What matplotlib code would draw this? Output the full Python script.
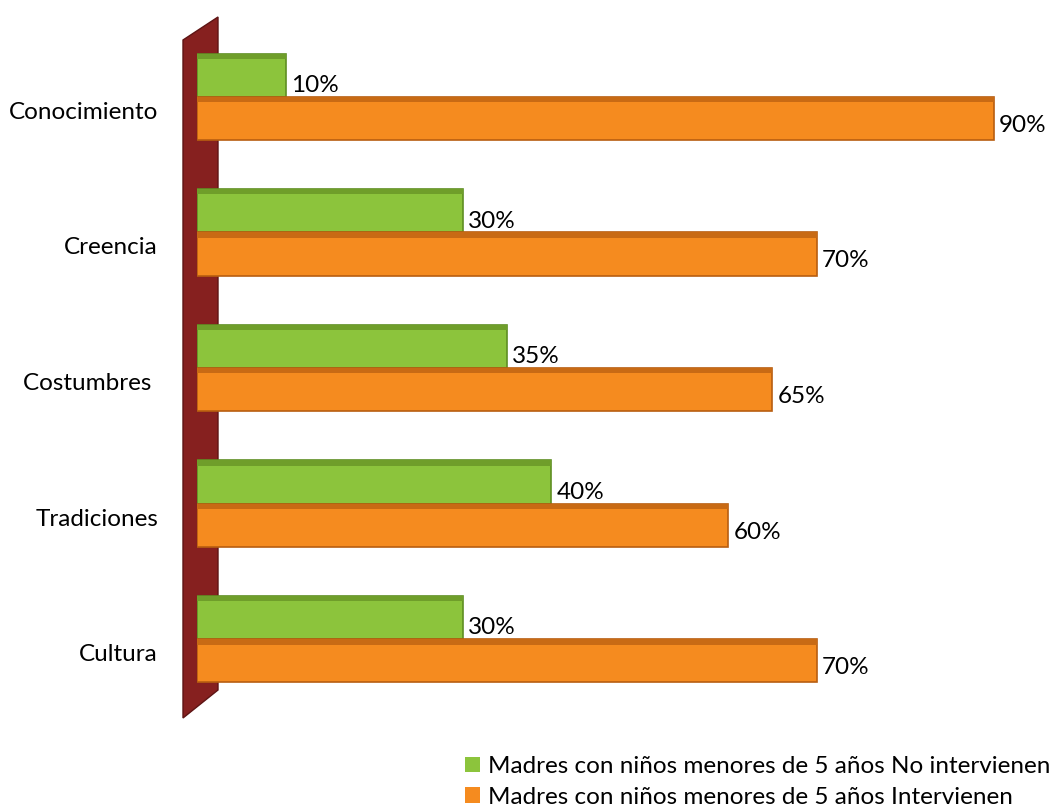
import matplotlib.pyplot as plt
from matplotlib.patches import Polygon, Patch

# ==============================
# DATA
# ==============================
categories = ["Conocimiento", "Creencia", "Costumbres ", "Tradiciones", "Cultura"]
no_intervienen = [0.10, 0.30, 0.35, 0.40, 0.30]
intervienen = [0.90, 0.70, 0.65, 0.60, 0.70]
label_no = "Madres con niños menores de 5 años No intervienen"
label_si = "Madres con niños menores de 5 años Intervienen"

plt.rcParams['font.family'] = ['Lato', 'DejaVu Sans']

W, H = 1059, 809
fig = plt.figure(figsize=(W / 100, H / 100), dpi=100)
ax = fig.add_axes([197 / W, 1 - 734 / H, (1045 - 197) / W, 732 / H])
ax.set_zorder(1)
ax.patch.set_visible(False)

# dark red side wall (3D look)
wall = Polygon([(183 / W, 1 - 40 / H), (218 / W, 1 - 17 / H),
                (218 / W, 1 - 690 / H), (183 / W, 1 - 718 / H)],
               closed=True, transform=fig.transFigure,
               facecolor="#86201f", edgecolor="#5e1414", zorder=0)
fig.patches.append(wall)

n = len(categories)
pos = [n - 1 - i for i in range(n)]
h = 0.32
green_y = [p + 0.16 for p in pos]
orange_y = [p - 0.16 for p in pos]

ax.barh(green_y, no_intervienen, height=h, color="#8cc43c", edgecolor="#5f8f22",
        linewidth=1.2)
ax.barh(orange_y, intervienen, height=h, color="#f58b1f", edgecolor="#b85e10",
        linewidth=1.2)
# darker top faces
ax.barh([y + h / 2 - 0.02 for y in green_y], no_intervienen, height=0.04,
        color="#6f9e2a", linewidth=0)
ax.barh([y + h / 2 - 0.02 for y in orange_y], intervienen, height=0.04,
        color="#c86a14", linewidth=0)

for y, v in zip(green_y, no_intervienen):
    ax.text(v + 0.006, y - h / 2 + 0.005, f"{v:.0%}", va="bottom", ha="left", fontsize=17.5)
for y, v in zip(orange_y, intervienen):
    ax.text(v + 0.006, y - 0.05, f"{v:.0%}", va="center", ha="left", fontsize=17.5)

ax.set_xlim(0, (1045 - 197) / 885)
ax.set_ylim(-0.7, n - 1 + 0.7)
ax.set_yticks([p - 0.1 for p in pos])
ax.set_yticklabels(categories, fontsize=17.5)
ax.tick_params(axis="y", length=0, pad=28)
ax.set_xticks([])
for s in ax.spines.values():
    s.set_visible(False)

handles = [Patch(facecolor="#8cc43c", edgecolor="none", label=label_no),
           Patch(facecolor="#f58b1f", edgecolor="none", label=label_si)]
fig.legend(handles=handles, loc="upper left", bbox_to_anchor=(465 / W, 1 - 756 / H),
           frameon=False, fontsize=17.5, handlelength=0.6, handleheight=0.6,
           handletextpad=0.35, labelspacing=0.4, borderaxespad=0, borderpad=0)

fig.savefig("out.png", dpi=100)
